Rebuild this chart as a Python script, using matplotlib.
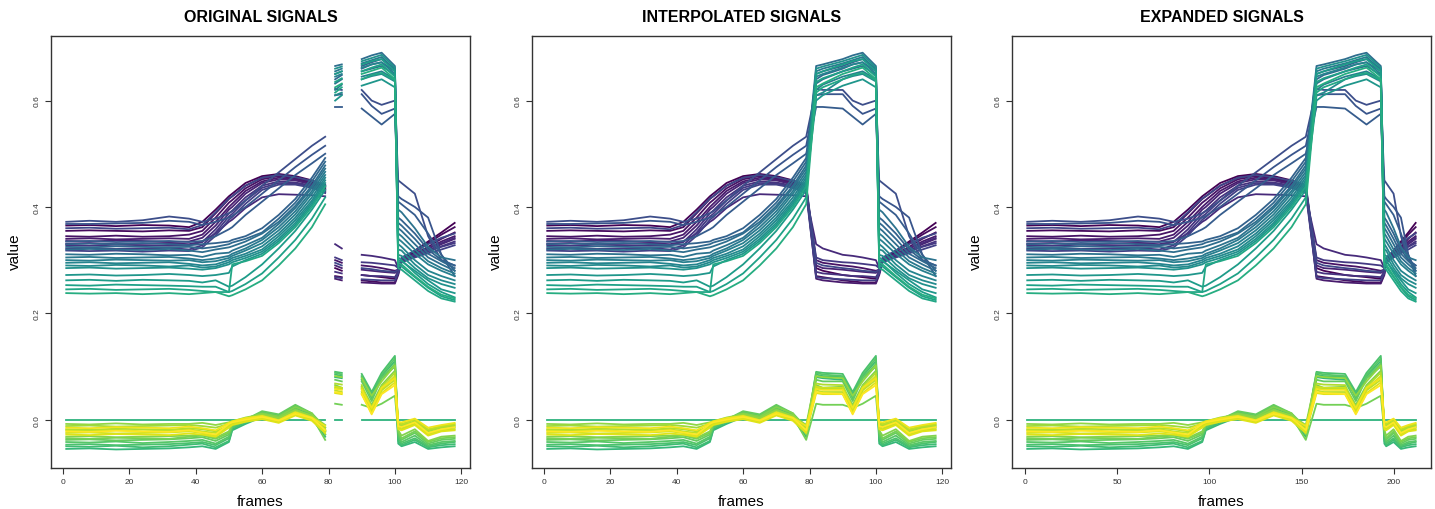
import numpy as np
import matplotlib
matplotlib.use("Agg")
import matplotlib.pyplot as plt

plt.rcParams['font.family'] = ['Liberation Sans', 'DejaVu Sans']

frames = [1, 8, 16, 24, 32, 38, 42, 46, 50, 51, 55, 60, 65, 70, 75, 79,
          82, 84, 90, 93, 96, 100, 101, 102, 106, 110, 114, 118]
# stretches that exist in the original signal (the rest is missing)
observed = [(1, 79), (82, 84), (90, 118)]
# expanded time axis: frames 1..101 stretched, tail kept as is
expand_from = [1, 101, 118]
expand_to = [1, 195, 212]

# signal values, in thousandths
# purple lines (go up then swap down)
p1 = [365, 366, 364, 366, 365, 362, 372, 395, 420, 425, 445, 458, 462, 458, 450, 440, 285, 280, 272, 270, 268, 265, 278, 300, 318, 335, 352, 370]
p2 = [355, 356, 355, 354, 356, 355, 362, 388, 415, 420, 440, 455, 460, 456, 448, 438, 270, 268, 262, 260, 258, 258, 275, 298, 315, 332, 348, 362]
p3 = [345, 344, 346, 344, 345, 348, 355, 380, 408, 413, 435, 452, 458, 454, 446, 436, 300, 295, 290, 288, 285, 280, 282, 302, 312, 325, 340, 352]
p4 = [340, 341, 339, 340, 341, 340, 348, 372, 400, 406, 430, 448, 455, 452, 444, 434, 265, 262, 258, 257, 256, 256, 272, 296, 308, 322, 335, 345]
p5 = [336, 335, 337, 336, 334, 335, 342, 365, 395, 400, 425, 445, 452, 450, 442, 432, 290, 285, 282, 280, 278, 276, 280, 300, 310, 318, 330, 340]
p6 = [331, 332, 330, 331, 332, 330, 335, 350, 372, 376, 398, 418, 424, 423, 422, 420, 330, 322, 310, 308, 305, 300, 285, 300, 312, 322, 332, 342]
p7 = [328, 327, 329, 328, 327, 328, 334, 358, 388, 393, 418, 440, 448, 446, 440, 430, 278, 275, 272, 270, 270, 268, 278, 298, 306, 316, 326, 335]
p8 = [322, 323, 321, 322, 323, 320, 328, 352, 382, 387, 412, 436, 445, 444, 438, 428, 305, 300, 296, 295, 293, 290, 285, 302, 310, 318, 325, 332]
p9 = [318, 317, 318, 316, 318, 317, 324, 346, 376, 381, 406, 432, 442, 442, 436, 426, 268, 266, 264, 263, 262, 262, 276, 296, 305, 313, 320, 328]
p10 = [360, 361, 359, 360, 361, 358, 366, 390, 416, 420, 440, 455, 460, 456, 449, 442, 295, 290, 285, 283, 280, 278, 282, 305, 318, 330, 342, 350]
# blue lines (rise early, stay a bit lower on top)
b1 = [372, 374, 372, 375, 382, 378, 372, 378, 388, 392, 412, 440, 465, 490, 515, 532, 622, 620, 620, 600, 592, 600, 450, 445, 425, 345, 300, 290]
b2 = [368, 368, 369, 370, 374, 372, 366, 372, 380, 383, 400, 425, 450, 475, 498, 515, 610, 612, 612, 590, 575, 585, 420, 415, 400, 380, 310, 270]
b3 = [335, 336, 334, 335, 336, 334, 336, 345, 358, 362, 385, 410, 435, 460, 482, 500, 588, 588, 585, 570, 555, 575, 410, 405, 385, 350, 310, 280]
# teal lines (rise late, swap up)
t1 = [330, 331, 330, 332, 330, 328, 330, 332, 335, 338, 345, 360, 385, 415, 455, 492, 650, 655, 665, 672, 678, 660, 380, 375, 350, 320, 300, 290]
t2 = [325, 324, 326, 325, 324, 325, 322, 325, 330, 333, 340, 352, 378, 408, 448, 485, 640, 648, 660, 668, 672, 655, 370, 365, 340, 312, 298, 285]
t3 = [320, 321, 320, 319, 321, 318, 315, 320, 324, 326, 335, 350, 372, 402, 440, 478, 665, 668, 678, 685, 690, 665, 360, 355, 330, 305, 292, 280]
t4 = [311, 310, 312, 311, 309, 310, 306, 312, 314, 318, 328, 342, 368, 398, 436, 472, 632, 640, 655, 660, 665, 648, 395, 390, 360, 325, 305, 300]
t5 = [305, 306, 304, 305, 306, 303, 300, 303, 308, 312, 322, 338, 362, 392, 430, 466, 655, 660, 670, 676, 682, 658, 350, 345, 320, 298, 285, 275]
t6 = [300, 299, 301, 300, 299, 300, 296, 298, 304, 308, 318, 332, 356, 386, 425, 460, 620, 630, 645, 650, 655, 640, 340, 335, 312, 292, 280, 270]
t7 = [295, 296, 294, 295, 296, 293, 290, 292, 300, 304, 312, 326, 350, 380, 418, 455, 645, 650, 662, 668, 672, 650, 330, 325, 300, 280, 270, 262]
t8 = [290, 289, 291, 290, 288, 290, 286, 288, 296, 300, 308, 320, 345, 375, 412, 450, 610, 615, 640, 646, 650, 636, 320, 318, 292, 272, 262, 255]
t9 = [285, 286, 284, 285, 286, 284, 282, 285, 292, 296, 304, 316, 340, 370, 408, 445, 660, 664, 674, 680, 686, 662, 310, 308, 285, 266, 255, 248]
t10 = [272, 273, 271, 272, 274, 272, 270, 272, 276, 288, 300, 312, 336, 366, 404, 440, 600, 610, 628, 634, 640, 625, 300, 298, 280, 262, 245, 238]
t11 = [262, 263, 261, 263, 262, 261, 258, 262, 250, 252, 268, 292, 322, 355, 395, 432, 650, 655, 668, 674, 678, 655, 305, 300, 276, 255, 240, 230]
t12 = [253, 252, 254, 253, 252, 251, 250, 250, 240, 242, 255, 275, 305, 338, 378, 418, 635, 642, 655, 662, 668, 645, 290, 288, 268, 248, 232, 225]
t13 = [245, 246, 244, 245, 246, 244, 242, 240, 240, 292, 298, 308, 332, 362, 400, 438, 615, 625, 640, 648, 652, 638, 285, 282, 262, 242, 228, 222]
t14 = [238, 237, 238, 236, 238, 236, 238, 240, 232, 234, 245, 262, 290, 322, 362, 405, 625, 632, 650, 656, 662, 640, 295, 292, 270, 250, 235, 228]
# flat line at zero
z1 = [0, 0, 0, 0, 0, 0, 0, 0, 0, 0, 0, 0, 0, 0, 0, 0, 0, 0, 0, 0, 0, 0, 0, 0, 0, 0, 0, 0]
# green / yellow lines near zero
g1 = [-55, -54, -56, -55, -54, -52, -50, -55, -42, -20, -8, 5, 0, 12, 2, -32, 80, 78, 75, 45, 78, 100, -45, -50, -42, -55, -52, -50]
g2 = [-50, -51, -49, -52, -50, -47, -45, -52, -40, -18, -5, 8, 2, 15, 4, -28, 85, 82, 80, 48, 82, 110, -40, -48, -38, -52, -48, -46]
g3 = [-47, -46, -48, -47, -46, -44, -42, -48, -35, -15, -3, 12, 5, 22, 8, -22, 90, 88, 86, 52, 88, 120, -35, -45, -35, -50, -45, -42]
g4 = [-42, -43, -41, -44, -42, -40, -38, -45, -32, -14, -2, 14, 8, 26, 10, -20, 88, 85, 82, 40, 84, 115, -30, -42, -30, -48, -42, -40]
g5 = [-38, -37, -39, -38, -37, -35, -33, -40, -28, -12, 0, 16, 10, 28, 12, -15, 75, 72, 72, 35, 78, 105, -25, -38, -25, -45, -38, -36]
g6 = [-35, -36, -34, -35, -36, -32, -30, -36, -25, -10, -4, 10, 4, 20, 6, -38, 30, 28, 28, 22, 30, 45, -22, -35, -22, -42, -35, -33]
g7 = [-32, -31, -33, -32, -31, -30, -28, -34, -22, -8, 2, 12, 6, 24, 12, -28, 65, 60, 62, 28, 65, 92, -20, -30, -18, -40, -32, -30]
g8 = [-8, -9, -7, -9, -8, -8, -6, -10, -5, -3, 4, 10, 3, 18, 8, -10, 82, 80, 78, 45, 72, 102, -12, -15, -8, -25, -18, -15]
g9 = [-12, -11, -13, -12, -11, -10, -12, -15, -8, -5, 2, 8, 0, 15, 5, -15, 60, 58, 58, 25, 58, 80, -10, -12, -5, -22, -15, -12]
g10 = [-18, -19, -17, -18, -19, -16, -18, -22, -12, -8, 0, 6, -2, 12, 3, -22, 68, 66, 65, 20, 62, 88, -8, -10, -3, -20, -14, -10]
g11 = [-20, -21, -19, -22, -20, -18, -22, -25, -10, -6, 2, 4, -4, 10, 2, -18, 55, 52, 52, 15, 55, 75, -6, -8, 0, -18, -12, -8]
g12 = [-25, -24, -26, -25, -24, -22, -25, -30, -12, -8, -2, 3, -3, 9, 0, -20, 62, 60, 60, 18, 58, 82, -15, -18, -8, -28, -20, -18]
g13 = [-28, -29, -27, -28, -29, -26, -28, -32, -15, -10, -4, 1, -6, 8, -2, -25, 50, 48, 48, 12, 50, 70, -18, -20, -10, -30, -22, -20]
g14 = [-15, -16, -14, -15, -16, -13, -16, -20, -6, -3, 3, 7, -1, 14, 4, -12, 58, 56, 56, 22, 60, 78, -4, -5, 2, -15, -10, -6]
g15 = [-22, -23, -21, -22, -23, -20, -24, -28, -8, -5, 0, 5, -2, 11, 3, -20, 52, 50, 48, 10, 48, 65, -12, -14, -5, -25, -18, -14]

signals = [p1, p2, p3, p4, p5, p6, p7, p8, p9, p10, b1, b2, b3,
           t1, t2, t3, t4, t5, t6, t7, t8, t9, t10, t11, t12, t13, t14,
           z1, g1, g2, g3, g4, g5, g6, g7, g8, g9, g10, g11, g12, g13, g14, g15]
signals = [np.array(s) / 1000.0 for s in signals]
colors = plt.cm.viridis(np.linspace(0, 1, len(signals)))

fr = np.array(frames)
fr_exp = np.interp(fr, expand_from, expand_to)

W, H = 1435, 510
fig = plt.figure(figsize=(W / 100, H / 100), dpi=100)


def panel(left, title, xs, xticks, split):
    ax = fig.add_axes([left / W, (H - 468.7) / H, 419.5 / W, 432 / H])
    for sig, col in zip(signals, colors):
        if split:
            for a, b in observed:
                m = (fr >= a) & (fr <= b)
                ax.plot(xs[m], sig[m], color=col, lw=1.3)
        else:
            ax.plot(xs, sig, color=col, lw=1.3)
    pad = (xs.max() - xs.min()) * 0.04
    ax.set_xlim(xs.min() - pad, xs.max() + pad)
    ax.set_ylim(-0.0903, 0.722)
    ax.set_xticks(xticks)
    ax.set_yticks([0.0, 0.2, 0.4, 0.6])
    ax.set_yticklabels(['0.0', '0.2', '0.4', '0.6'], rotation=90, va='center')
    ax.tick_params(length=4.5, width=0.8, labelsize=6, pad=3,
                   color='#333333', labelcolor='#333333')
    for s in ax.spines.values():
        s.set_linewidth(1.0)
        s.set_color('#333333')
    cx = (left + 419.5 / 2) / W
    fig.text(cx, 1 - 17 / H, title, ha='center', va='center',
             fontsize=11.5, fontweight='bold')
    fig.text(cx, 1 - 502 / H, 'frames', ha='center', va='center', fontsize=11)
    fig.text((left - 36) / W, (H - 252) / H, 'value', ha='center', va='center',
             rotation=90, fontsize=11)
    return ax


panel(50.7, 'ORIGINAL SIGNALS', fr, [0, 20, 40, 60, 80, 100, 120], True)
panel(531.7, 'INTERPOLATED SIGNALS', fr, [0, 20, 40, 60, 80, 100, 120], False)
panel(1011.7, 'EXPANDED SIGNALS', fr_exp, [0, 50, 100, 150, 200], False)

fig.savefig('out.png', dpi=100)
